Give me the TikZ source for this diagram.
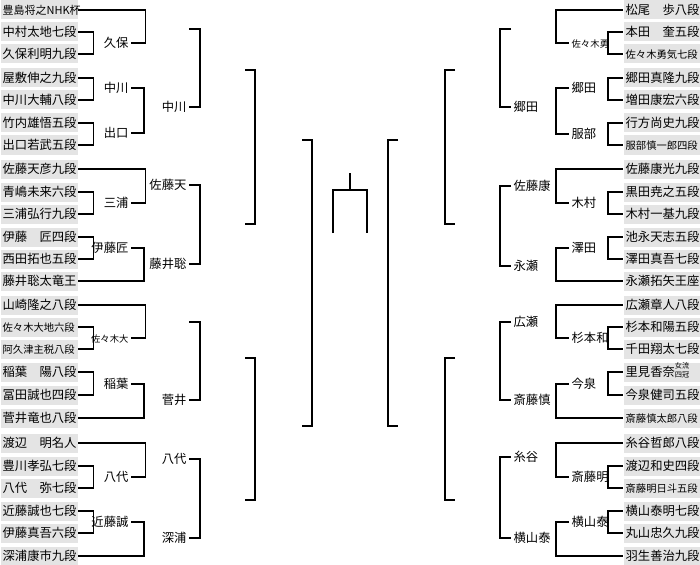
\documentclass[tikz,border=0pt]{standalone}
\usepackage{fontspec}
\setmainfont{Noto Sans CJK JP}
\usepackage{xcolor}
\usepackage{tikz}
\definecolor{cellgray}{RGB}{228,228,228}
\newcommand\namesmall[1]{{\fontsize{10.3}{10.3}\selectfont #1}}
\newcommand\labsmall[1]{{\fontsize{9.3}{9.3}\selectfont #1}}
\newcommand\nhkname{{\fontsize{11}{11}\selectfont 豊島将之NHK杯}}
\newcommand\satominame{里見香奈{\fontsize{7.2}{7.2}\selectfont\raisebox{-0.9pt}{\shortstack{女流\\四冠}}}}

\begin{document}
\begin{tikzpicture}[x=1pt,y=-1pt,line width=1.3pt,
    player/.style={anchor=west,fill=cellgray,text width=73pt,align=left,
      inner xsep=2pt,inner ysep=0pt,minimum height=19pt,
      text height=10.5pt,text depth=1.5pt,font=\fontsize{12.3}{12.3}\selectfont},
    winl/.style={anchor=east,inner xsep=2pt,inner ysep=0pt,
      text height=10.5pt,text depth=1.5pt,font=\fontsize{12.3}{12.3}\selectfont},
    winr/.style={winl,anchor=west}]
  \useasboundingbox (0,0) rectangle (700,564);

  % players
  \foreach \i/\y/\t in {0/10/\nhkname,1/32/中村太地七段,2/54/久保利明九段,
      3/78/屋敷伸之九段,4/100/中川大輔八段,5/123/竹内雄悟五段,6/145/出口若武五段,
      7/169/佐藤天彦九段,8/192/青嶋未来六段,9/214/三浦弘行九段,10/237/伊藤　匠四段,
      11/259/西田拓也五段,12/281/藤井聡太竜王,13/305/山崎隆之八段,
      14/327/\namesmall{佐々木大地六段},15/349/\namesmall{阿久津主税八段},
      16/372/稲葉　陽八段,17/395/冨田誠也四段,18/418/菅井竜也八段,
      19/443/渡辺　明名人,20/466/豊川孝弘七段,21/488/八代　弥七段,
      22/511/近藤誠也七段,23/533/伊藤真吾六段,24/556/深浦康市九段}
    \node[player] (L\i) at (0,\y) {\t};
  \foreach \i/\y/\t in {0/10/松尾　歩八段,1/32/本田　奎五段,2/54/\namesmall{佐々木勇気七段},
      3/78/郷田真隆九段,4/100/増田康宏六段,5/123/行方尚史九段,6/145/\namesmall{服部慎一郎四段},
      7/169/佐藤康光九段,8/192/黒田尭之五段,9/214/木村一基九段,10/237/池永天志五段,
      11/259/澤田真吾七段,12/281/永瀬拓矢王座,13/305/広瀬章人八段,
      14/327/杉本和陽五段,15/349/千田翔太七段,16/372/\satominame,
      17/395/今泉健司五段,18/418/\namesmall{斎藤慎太郎八段},
      19/443/糸谷哲郎八段,20/466/渡辺和史四段,21/488/\namesmall{斎藤明日斗五段},
      22/511/横山泰明七段,23/533/丸山忠久九段,24/556/羽生善治九段}
    \node[player] (R\i) at (623,\y) {\t};

  % first round
  \foreach \a/\b in {1/2,3/4,5/6,8/9,10/11,14/15,16/17,20/21,22/23}{
    \draw (L\a.east) -- ++(15,0) |- (L\b.east);
    \draw (R\a.west) -- ++(-15,0) |- (R\b.west);
  }
  \foreach \n/\y/\t in {1/43/久保,2/88/中川,3/133/出口,4/203/三浦,5/248/伊藤匠,
      6/338/\labsmall{佐々木大},7/384/稲葉,8/477/八代,9/522/近藤誠}
    \node[winl] (la\n) at (131,\y) {\t};
  \foreach \n/\y/\t in {1/43/\labsmall{佐々木勇},2/88/郷田,3/134/服部,4/203/木村,5/248/澤田,
      6/338/杉本和,7/384/今泉,8/477/斎藤明,9/522/横山泰}
    \node[winr] (ra\n) at (569,\y) {\t};

  % second round
  \foreach \p/\q in {L0/la1,L7/la4,L13/la6,L19/la8}
    \draw (\p.east) -- ++(67,0) |- (\q.east);
  \foreach \p/\q in {la2/la3,la5/L12,la7/L18,la9/L24}
    \draw (\p.east) -- ++(13,0) |- (\q.east);
  \foreach \p/\q in {R0/ra1,R7/ra4,R13/ra6,R19/ra8}
    \draw (\p.west) -- ++(-67,0) |- (\q.west);
  \foreach \p/\q in {ra2/ra3,ra5/R12,ra7/R18,ra9/R24}
    \draw (\p.west) -- ++(-13,0) |- (\q.west);

  \coordinate (lb1) at (189,29);
  \coordinate (lb5) at (189,322);
  \node[winl] (lb2) at (189,107) {中川};
  \node[winl] (lb3) at (189,185) {佐藤天};
  \node[winl] (lb4) at (189,264) {藤井聡};
  \node[winl] (lb6) at (189,400) {菅井};
  \node[winl] (lb7) at (189,459) {八代};
  \node[winl] (lb8) at (189,538) {深浦};
  \coordinate (rb1) at (511,29);
  \node[winr] (rb2) at (511,107) {郷田};
  \node[winr] (rb3) at (511,186) {佐藤康};
  \node[winr] (rb4) at (511,266) {永瀬};
  \node[winr] (rb5) at (511,322) {広瀬};
  \node[winr] (rb6) at (511,400) {斎藤慎};
  \node[winr] (rb7) at (511,457) {糸谷};
  \node[winr] (rb8) at (511,538) {横山泰};

  % third round
  \draw (lb1) -- ++(11,0) |- (lb2.east);
  \draw (lb3.east) -- ++(11,0) |- (lb4.east);
  \draw (lb5) -- ++(11,0) |- (lb6.east);
  \draw (lb7.east) -- ++(11,0) |- (lb8.east);
  \draw (rb1) -- ++(-11,0) |- (rb2.west);
  \draw (rb3.west) -- ++(-11,0) |- (rb4.west);
  \draw (rb5.west) -- ++(-11,0) |- (rb6.west);
  \draw (rb7.west) -- ++(-11,0) |- (rb8.west);

  % quarter and semi finals
  \foreach \n/\y in {1/70,2/224,3/358,4/500}{
    \coordinate (lc\n) at (245,\y);
    \coordinate (rc\n) at (455,\y);
  }
  \draw (lc1) -- ++(10,0) |- (lc2);
  \draw (lc3) -- ++(10,0) |- (lc4);
  \draw (rc1) -- ++(-10,0) |- (rc2);
  \draw (rc3) -- ++(-10,0) |- (rc4);
  \coordinate (ld1) at (302,140);
  \coordinate (ld2) at (302,426);
  \coordinate (rd1) at (398,140);
  \coordinate (rd2) at (398,426);
  \draw (ld1) -- ++(10,0) |- (ld2);
  \draw (rd1) -- ++(-10,0) |- (rd2);

  % final
  \coordinate (fl) at (333,233);
  \coordinate (fr) at (367,233);
  \coordinate (ft) at (350,173);
  \draw (fl) -- ++(0,-43) -| (fr);
  \draw (ft) -- ++(0,17);
\end{tikzpicture}
\end{document}
